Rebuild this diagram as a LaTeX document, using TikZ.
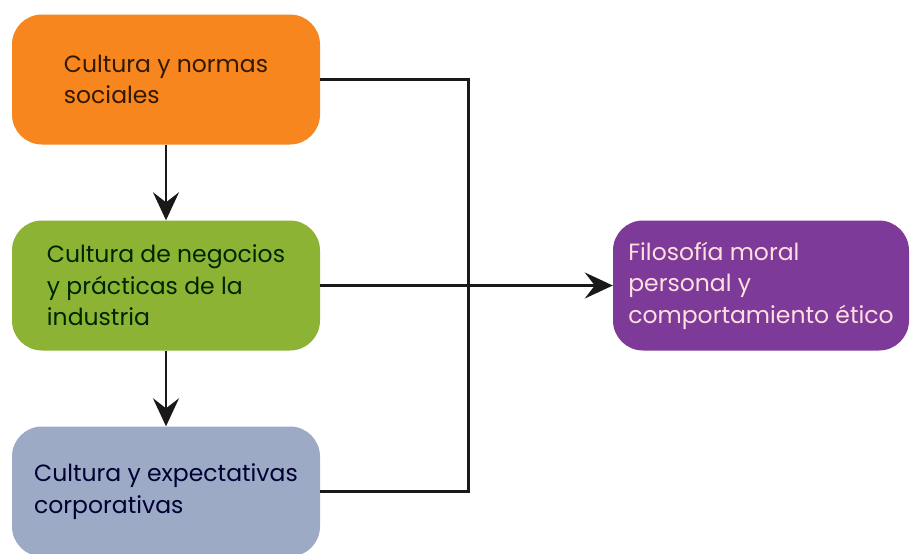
\documentclass[tikz,border=0pt]{standalone}
\usepackage{fontspec}
\setmainfont{Poppins}
\usepackage{tikz}
\usetikzlibrary{positioning, arrows, arrows.meta}
\definecolor{orangefill}{RGB}{248,134,31}
\definecolor{greenfill}{RGB}{141,179,52}
\definecolor{bluefill}{RGB}{157,170,198}
\definecolor{purplefill}{RGB}{126,58,152}
\tikzset{
    >={Stealth[length=28pt, width=26pt, inset=10pt]}, % big notched heads
    box/.style={rounded corners=30pt, minimum width=308pt, minimum height=130pt,
                align=left, font=\fontsize{23.5pt}{31.5pt}\selectfont},
    link/.style={line width=2.6pt, draw=black!90},
}
\begin{document}
\begin{tikzpicture}
    \useasboundingbox (0,0) rectangle (911pt,-554pt);
    \node[box, fill=orangefill, text=orange!20!black] (orange) at (166pt,-79.5pt) {Cultura y normas\\sociales};
    \node[box, fill=greenfill, text=green!15!black, below of=orange, node distance=206pt] (green) {Cultura de negocios\\y prácticas de la\\industria};
    \node[box, fill=bluefill, text=blue!20!black, below of=green, node distance=206pt] (blue) {Cultura y expectativas\\corporativas};
    \node[box, fill=purplefill, text=pink!50!white, minimum width=296pt, right of=green, node distance=595pt] (purple) {Filosofía moral\\personal y\\comportamiento ético};

    \draw[link, ->] (orange) -- (green);
    \draw[link, ->] (green) -- (blue);
    \draw[link] (orange.east) -- ++(148pt,0) |- (blue.east);
    \draw[link, ->] (green.east) -- (purple.west);
\end{tikzpicture}
\end{document}
